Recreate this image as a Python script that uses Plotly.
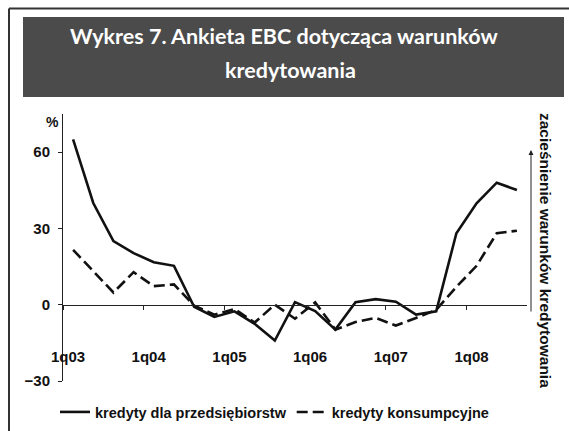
import plotly.graph_objects as go

# ---- data ----
quarters = ["1q03", "2q03", "3q03", "4q03", "1q04", "2q04", "3q04", "4q04",
            "1q05", "2q05", "3q05", "4q05", "1q06", "2q06", "3q06", "4q06",
            "1q07", "2q07", "3q07", "4q07", "1q08", "2q08", "3q08"]
przedsiebiorstwa = [65, 40, 25, 20.3, 16.7, 15.3, -0.8, -4.8, -2.6, -7.5, -14.1, 1.0,
                    -2.5, -9.8, 1.0, 2.2, 1.2, -3.9, -2.6, 28.1, 39.9, 48.0, 45.1]
konsumpcyjne = [21.6, 13.2, 4.8, 12.8, 7.3, 8.0, -0.4, -3.9, -1.7, -7.0, 0.0, -5.5,
                0.9, -9.8, -6.8, -5.2, -8.2, -5.2, -2.0, 7.0, 15.3, 28.1, 29.1]
year_labels = ["1q03", "1q04", "1q05", "1q06", "1q07", "1q08"]
y_ticks = [-30, 0, 30, 60]

W, H = 569, 431
ML, MR, MT, MB = 63, 42, 114, 50
PW, PH = W - ML - MR, H - MT - MB


def px(x):
    return (x - ML) / PW


def py(y):
    return (H - MB - y) / PH


FONT = "Liberation Sans, Arial, sans-serif"
TFONT = "Lato, Open Sans, sans-serif"
idx = list(range(len(quarters)))

fig = go.Figure()
fig.add_trace(go.Scatter(x=idx, y=przedsiebiorstwa, mode="lines",
                         name="kredyty dla przedsiębiorstw", text=quarters,
                         line=dict(color="#111111", width=2.6)))
fig.add_trace(go.Scatter(x=idx, y=konsumpcyjne, mode="lines",
                         name="kredyty konsumpcyjne", text=quarters,
                         line=dict(color="#111111", width=2.6, dash="11px,5px")))

ymin, ymax = -30, 75
tick_pos = [quarters.index(q) - 0.5 for q in year_labels]

fig.update_layout(
    width=W, height=H,
    margin=dict(l=ML, r=MR, t=MT, b=MB, autoexpand=False),
    paper_bgcolor="white", plot_bgcolor="white",
    font=dict(family=FONT, color="#111111"),
    xaxis=dict(range=[-0.5, len(quarters) - 0.5], anchor="free",
               position=(0 - ymin) / (ymax - ymin),
               showline=True, linecolor="#222222", linewidth=1,
               showgrid=False, zeroline=False,
               tickvals=tick_pos, ticktext=year_labels,
               ticks="outside", ticklen=4, tickcolor="#222222",
               ticklabelstandoff=34, ticklabelshift=5,
               tickfont=dict(size=15, family=FONT, weight="bold", color="#111111")),
    yaxis=dict(range=[ymin, ymax], showline=True, linecolor="#222222", linewidth=1,
               showgrid=False, zeroline=False, tickvals=y_ticks,
               ticks="outside", ticklen=4, tickcolor="#222222",
               ticklabelstandoff=5,
               tickfont=dict(size=15, family=FONT, weight="bold", color="#111111")),
    showlegend=True,
    legend=dict(orientation="h", x=px(55), xanchor="left", y=py(412), yanchor="middle",
                font=dict(size=14.5, family=FONT, weight="bold", color="#111111"),
                bgcolor="rgba(0,0,0,0)"),
)

shapes = [
    # title box
    dict(type="rect", xref="paper", yref="paper", x0=px(23), x1=px(564),
         y0=py(97), y1=py(17), fillcolor="#4b4b4b", line=dict(width=0), layer="below"),
    # frame
    dict(type="line", xref="paper", yref="paper", x0=px(9), x1=px(572),
         y0=py(8.5), y1=py(8.5), line=dict(color="#333333", width=2)),
    dict(type="line", xref="paper", yref="paper", x0=px(9), x1=px(9),
         y0=py(8.5), y1=py(434), line=dict(color="#333333", width=2)),
]
fig.update_layout(shapes=shapes)

annotations = [
    dict(text="Wykres 7. Ankieta EBC dotycząca warunków", xref="paper", yref="paper",
         x=px(284), y=py(36), xanchor="center", yanchor="middle", showarrow=False,
         font=dict(family=TFONT, size=21.5, weight="bold", color="white")),
    dict(text="kredytowania", xref="paper", yref="paper",
         x=px(290), y=py(70), xanchor="center", yanchor="middle", showarrow=False,
         font=dict(family=TFONT, size=21.5, weight="bold", color="white")),
    dict(text="%", xref="paper", yref="paper", x=px(52), y=py(122),
         xanchor="center", yanchor="middle", showarrow=False,
         font=dict(family=FONT, size=14, weight="bold", color="#111111")),
    dict(text="zacieśnienie warunków kredytowania", xref="paper", yref="paper",
         x=px(546), y=py(250), xanchor="center", yanchor="middle", textangle=90,
         showarrow=False,
         font=dict(family=FONT, size=15.5, weight="bold", color="#111111")),
    # arrow
    dict(text="", xref="paper", yref="paper", x=px(531), y=py(150),
         ax=0, ay=163, showarrow=True, arrowhead=2, arrowsize=1, arrowwidth=1,
         arrowcolor="#222222"),
]
fig.update_layout(annotations=annotations)

fig.write_html("out.html", config={"displayModeBar": False},
               post_script="document.body.style.margin='0';document.body.style.overflow='hidden';")
